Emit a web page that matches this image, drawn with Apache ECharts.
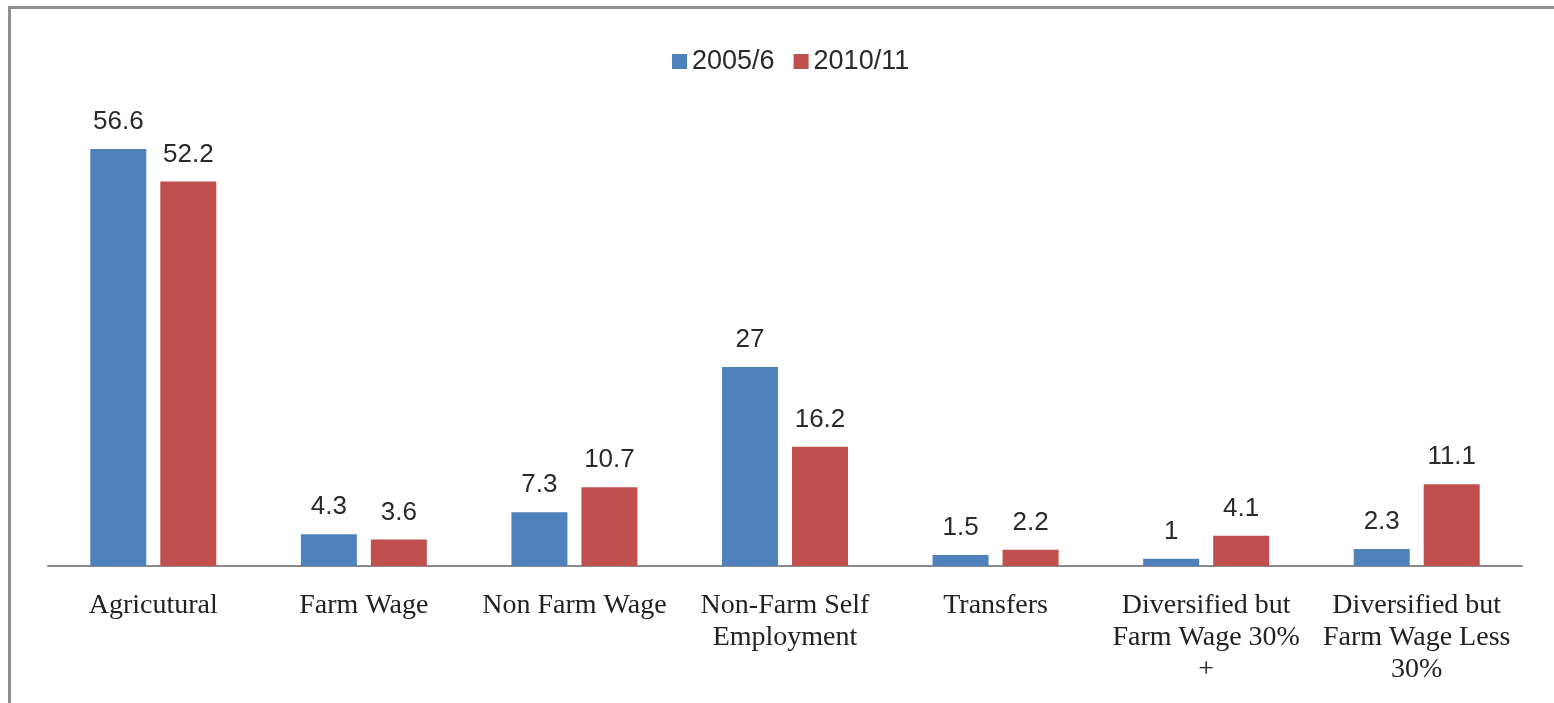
<!DOCTYPE html>
<html>
<head>
<meta charset="utf-8">
<script src="https://cdn.jsdelivr.net/npm/echarts@6/dist/echarts.min.js"></script>
<style>
  html, body { margin: 0; padding: 0; background: #fff; }
  #frame {
    position: absolute; left: 8px; top: 6px; width: 1560px; height: 720px;
    border-top: 3px solid #8f8f8f; border-left: 3px solid #8f8f8f;
    box-sizing: border-box;
  }
  #chart { position: absolute; left: 0; top: 0; width: 1554px; height: 703px; }
</style>
</head>
<body>
<div id="frame"></div>
<div id="chart"></div>
<script>
const categories = [
  "Agricutural",
  "Farm Wage",
  "Non Farm Wage",
  "Non-Farm Self\nEmployment",
  "Transfers",
  "Diversified but\nFarm Wage 30%\n+",
  "Diversified but\nFarm Wage Less\n30%"
];
const seriesNames = ["2005/6", "2010/11"];
const values2005 = [56.6, 4.3, 7.3, 27, 1.5, 1, 2.3];
const values2010 = [52.2, 3.6, 10.7, 16.2, 2.2, 4.1, 11.1];

const chart = echarts.init(document.getElementById("chart"), null, { renderer: "canvas" });

const labelStyle = {
  show: true,
  position: "top",
  distance: 14,
  color: "#2a2a2a",
  fontFamily: "Liberation Sans",
  fontSize: 26
};

chart.setOption({
  animation: false,
  backgroundColor: "transparent",
  color: ["#4f81bd", "#c0504d"],
  legend: {
    top: 43,
    left: 667,
    itemWidth: 15,
    itemHeight: 15,
    itemGap: 19,
    icon: "rect",
    textStyle: { color: "#2a2a2a", fontFamily: "Liberation Sans", fontSize: 27 },
    data: seriesNames
  },
  grid: { left: 48, right: 32, top: 124, bottom: 137 },
  xAxis: {
    type: "category",
    data: categories,
    axisTick: { show: false },
    axisLine: { lineStyle: { color: "#8a8a8a", width: 2 } },
    axisLabel: {
      interval: 0,
      margin: 24,
      color: "#222",
      fontFamily: "Liberation Serif",
      fontSize: 28,
      lineHeight: 32,
      align: "center"
    }
  },
  yAxis: {
    type: "value",
    min: 0,
    max: 60,
    show: false,
    splitLine: { show: false }
  },
  series: [
    {
      name: seriesNames[0],
      type: "bar",
      barWidth: 56,
      barGap: "25%",
      data: values2005,
      label: labelStyle
    },
    {
      name: seriesNames[1],
      type: "bar",
      barWidth: 56,
      barGap: "25%",
      data: values2010,
      label: labelStyle
    }
  ]
});
</script>
</body>
</html>
